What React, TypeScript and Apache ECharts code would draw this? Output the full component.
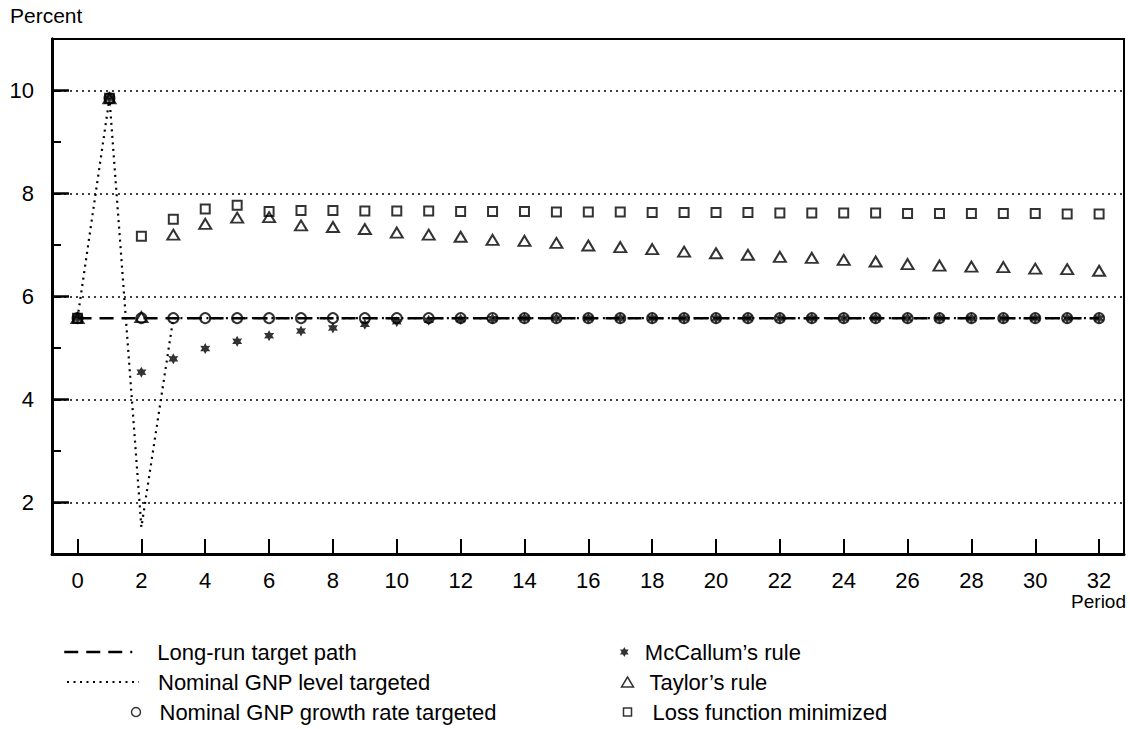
import { useEffect, useRef } from 'react';
import * as echarts from 'echarts';

// ---- data ----
const periods = [0, 1, 2, 3, 4, 5, 6, 7, 8, 9, 10, 11, 12, 13, 14, 15, 16, 17, 18, 19, 20, 21, 22, 23, 24, 25, 26, 27, 28, 29, 30, 31, 32];

const longRunTargetPath = [5.58, 5.58, 5.58, 5.58, 5.58, 5.58, 5.58, 5.58, 5.58, 5.58, 5.58, 5.58, 5.58, 5.58, 5.58, 5.58, 5.58, 5.58, 5.58, 5.58, 5.58, 5.58, 5.58, 5.58, 5.58, 5.58, 5.58, 5.58, 5.58, 5.58, 5.58, 5.58, 5.58];

const nominalGnpLevel = [5.58, 9.85, 1.52, 5.58, 5.58, 5.58, 5.58, 5.58, 5.58, 5.58, 5.58, 5.58, 5.58, 5.58, 5.58, 5.58, 5.58, 5.58, 5.58, 5.58, 5.58, 5.58, 5.58, 5.58, 5.58, 5.58, 5.58, 5.58, 5.58, 5.58, 5.58, 5.58, 5.58];

const nominalGnpGrowth = [5.58, 9.85, 5.58, 5.58, 5.58, 5.58, 5.58, 5.58, 5.58, 5.58, 5.58, 5.58, 5.58, 5.58, 5.58, 5.58, 5.58, 5.58, 5.58, 5.58, 5.58, 5.58, 5.58, 5.58, 5.58, 5.58, 5.58, 5.58, 5.58, 5.58, 5.58, 5.58, 5.58];

const mcCallumRule = [5.58, 9.85, 4.53, 4.79, 4.99, 5.13, 5.24, 5.33, 5.39, 5.46, 5.51, 5.54, 5.56, 5.57, 5.58, 5.58, 5.58, 5.58, 5.58, 5.58, 5.58, 5.58, 5.58, 5.58, 5.58, 5.58, 5.58, 5.58, 5.58, 5.58, 5.58, 5.58, 5.58];

const taylorRule = [5.58, 9.85, 5.6, 7.2, 7.41, 7.53, 7.54, 7.38, 7.35, 7.31, 7.24, 7.2, 7.16, 7.1, 7.08, 7.04, 6.99, 6.96, 6.92, 6.87, 6.84, 6.81, 6.77, 6.75, 6.71, 6.68, 6.63, 6.6, 6.58, 6.57, 6.54, 6.53, 6.5];

const lossFunction = [5.58, 9.85, 7.17, 7.5, 7.7, 7.77, 7.65, 7.67, 7.67, 7.66, 7.66, 7.66, 7.65, 7.65, 7.65, 7.64, 7.64, 7.64, 7.63, 7.63, 7.63, 7.63, 7.62, 7.62, 7.62, 7.62, 7.61, 7.61, 7.61, 7.61, 7.61, 7.6, 7.6];

const seriesNames = [
  'Long-run target path',
  'Nominal GNP level targeted',
  'Nominal GNP growth rate targeted',
  'McCallum\u2019s rule',
  'Taylor\u2019s rule',
  'Loss function minimized',
];

const FONT = '"Liberation Sans", Arial, Helvetica, sans-serif';
const ASTERISK =
  'path://M0,-10L2.75,-4.76L8.66,-5L5.5,0L8.66,5L2.75,4.76L0,10L-2.75,4.76L-8.66,5L-5.5,0L-8.66,-5L-2.75,-4.76Z';

const pairs = (vals: number[]) => periods.map((p, i) => [p, vals[i]]);

const openStyle = { color: 'none', borderColor: '#000', borderWidth: 2 };

function mkLegend(name: string, left: number, top: number, w: number, h: number, pad: number, extra: any) {
  return {
    data: [name],
    left,
    top,
    padding: 0,
    orient: 'horizontal',
    itemWidth: w,
    itemHeight: h,
    selectedMode: false,
    textStyle: { fontSize: 22, fontFamily: FONT, color: '#000', lineHeight: 22, padding: [0, 0, 0, pad] },
    ...extra,
  };
}

export default function App() {
  const ref = useRef<HTMLDivElement>(null);

  useEffect(() => {
    const chart = echarts.init(ref.current!, undefined, { renderer: 'svg' });
    const lineLegendDashed = {
      itemStyle: { opacity: 0 },
      lineStyle: { color: '#000', width: 2.5, type: [14, 8] },
    };
    const lineLegendDotted = {
      itemStyle: { opacity: 0 },
      lineStyle: { color: '#000', width: 2, type: [2, 4.5] },
    };
    const openLegend = { itemStyle: { color: 'none', borderColor: '#000', borderWidth: 1.5 } };
    const filledLegend = { itemStyle: { color: '#000', borderWidth: 0 } };

    const option: any = {
      animation: false,
      backgroundColor: '#fff',
      textStyle: { fontFamily: FONT },
      grid: {
        left: 52,
        right: 6,
        top: 39,
        bottom: 175,
        show: true,
        borderColor: '#000',
        borderWidth: 2,
        containLabel: false,
      },
      legend: [
        mkLegend(seriesNames[0], 63, 641, 68, 14, 20, lineLegendDashed),
        mkLegend(seriesNames[1], 66, 671, 72, 14, 14, lineLegendDotted),
        mkLegend(seriesNames[2], 129, 701, 9, 9, 14, openLegend),
        mkLegend(seriesNames[3], 620, 641, 9, 10, 11, filledLegend),
        mkLegend(seriesNames[4], 619, 671, 12, 10, 11, openLegend),
        mkLegend(seriesNames[5], 621, 701, 8, 8, 16, openLegend),
      ],
      xAxis: {
        type: 'value',
        min: -0.8,
        max: 32.78,
        splitNumber: 17,
        axisLine: { show: true, onZero: false, lineStyle: { color: '#000', width: 3 } },
        axisTick: { show: true, inside: true, length: 15, lineStyle: { color: '#000', width: 2 } },
        axisLabel: {
          fontSize: 22,
          color: '#000',
          fontFamily: FONT,
          margin: 15,
          showMinLabel: false,
          showMaxLabel: false,
        },
        splitLine: { show: false },
      },
      yAxis: [
        {
          type: 'value',
          min: 1,
          max: 11,
          splitNumber: 5,
          axisLine: { show: true, onZero: false, lineStyle: { color: '#000', width: 3 } },
          axisTick: { show: true, inside: true, length: 17, lineStyle: { color: '#000', width: 2.5 } },
          axisLabel: {
            fontSize: 22,
            color: '#000',
            fontFamily: FONT,
            margin: 18,
            showMinLabel: false,
            showMaxLabel: false,
          },
          splitLine: { show: true, lineStyle: { color: '#000', width: 1.6, type: [2, 4] } },
        },
        {
          type: 'value',
          min: 1,
          max: 11,
          splitNumber: 10,
          position: 'left',
          axisLine: { show: true, onZero: false, lineStyle: { color: '#000', width: 3 } },
          axisTick: { show: true, inside: true, length: 9, lineStyle: { color: '#000', width: 2 } },
          axisLabel: { show: false },
          splitLine: { show: false },
        },
      ],
      graphic: [
        {
          type: 'text',
          left: 10,
          top: 5,
          style: { text: 'Percent', fontSize: 21, fontFamily: FONT, fill: '#000' },
        },
        {
          type: 'text',
          right: 4,
          top: 592,
          style: { text: 'Period', fontSize: 19, fontFamily: FONT, fill: '#000' },
        },
      ],
      series: [
        {
          name: seriesNames[0],
          type: 'line',
          data: pairs(longRunTargetPath),
          symbol: 'none',
          silent: true,
          lineStyle: { color: '#000', width: 2.5, type: [14, 8] },
          itemStyle: { color: '#000' },
          z: 2,
        },
        {
          name: seriesNames[1],
          type: 'line',
          data: pairs(nominalGnpLevel),
          symbol: 'none',
          silent: true,
          lineStyle: { color: '#000', width: 2.2, type: [2, 4.5] },
          itemStyle: { color: '#000' },
          z: 2,
        },
        {
          name: seriesNames[2],
          type: 'scatter',
          data: pairs(nominalGnpGrowth),
          symbol: 'circle',
          symbolSize: 10,
          silent: true,
          itemStyle: openStyle,
          z: 3,
        },
        {
          name: seriesNames[3],
          type: 'scatter',
          data: pairs(mcCallumRule),
          symbol: ASTERISK,
          symbolSize: [10, 11],
          silent: true,
          itemStyle: { color: '#000' },
          z: 3,
        },
        {
          name: seriesNames[4],
          type: 'scatter',
          data: pairs(taylorRule),
          symbol: 'triangle',
          symbolSize: [12, 10],
          silent: true,
          itemStyle: openStyle,
          z: 3,
        },
        {
          name: seriesNames[5],
          type: 'scatter',
          data: pairs(lossFunction),
          symbol: 'rect',
          symbolSize: 9,
          silent: true,
          itemStyle: openStyle,
          z: 3,
        },
      ],
    };
    chart.setOption(option);
    return () => chart.dispose();
  }, []);

  return (
    <div
      ref={ref}
      style={{ position: 'fixed', left: 0, top: 0, width: 1130, height: 729, background: '#fff' }}
    />
  );
}
